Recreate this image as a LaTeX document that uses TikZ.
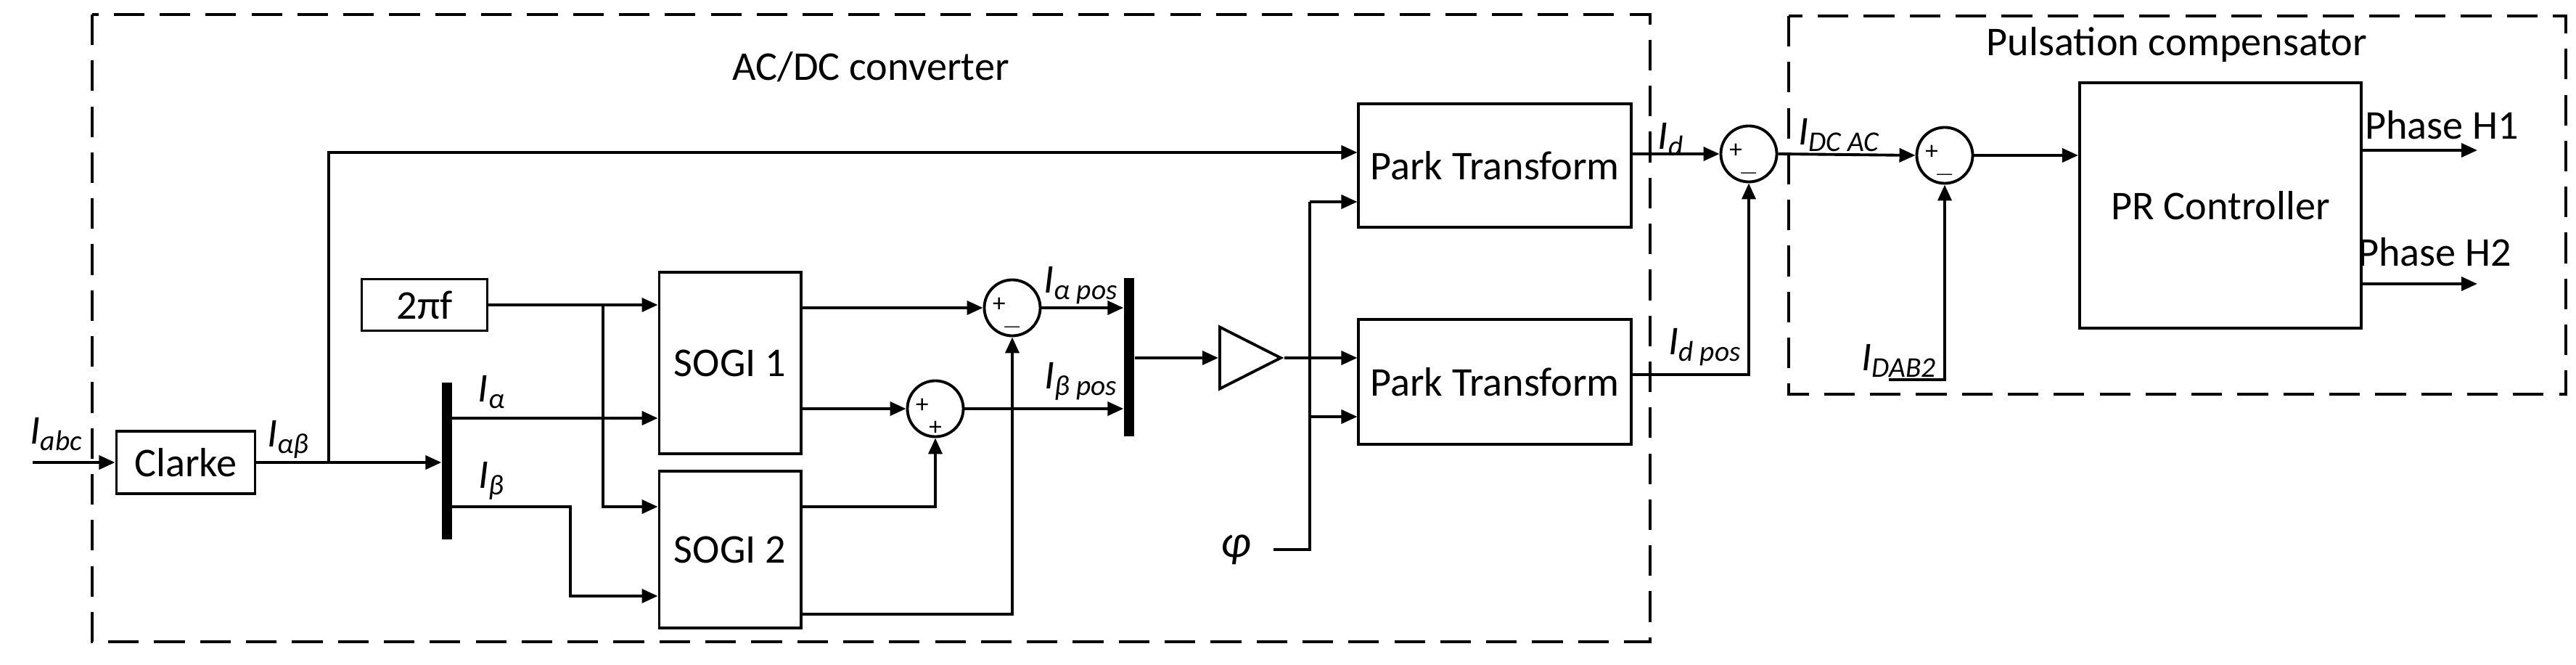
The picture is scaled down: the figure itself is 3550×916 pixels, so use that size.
\documentclass[tikz,border=0pt]{standalone}
\usepackage{fontspec}
\setmainfont{Carlito}
\usetikzlibrary{arrows.meta,shapes.geometric}
\begin{document}
\begin{tikzpicture}[x=0.01cm,y=-0.01cm,
  every node/.style={font=\fontsize{16}{19}\selectfont},
  line/.style={line width=1.1pt},
  arr/.style={line, -{Triangle[length=0.22cm,width=0.19cm]}},
  box/.style={draw, line width=1.1pt, inner sep=0pt},
  sum/.style={draw, line width=1.1pt, circle, minimum size=0.77cm, inner sep=0pt},
  bar/.style={fill=black, inner sep=0pt, minimum width=0.14cm},
  frame/.style={draw, line width=1pt, dash pattern=on 12pt off 6pt},
  sign/.style={inner sep=0pt, font=\fontsize{10}{10}\selectfont},
  lbl/.style={inner sep=1pt}]
\useasboundingbox (0,0) rectangle (3550,916);
% frames
\draw[frame] (127,20) rectangle (2274,884);
\draw[frame] (2465,22) rectangle (3536,543);
\node (t1) at (1200,92) {AC/DC converter};
\node (t2) at (3000,62) {Pulsation compensator};
% blocks
\node[box, minimum width=1.91cm, minimum height=0.86cm] (clarke) at (256,637) {Clarke};
\node[box, minimum width=1.73cm, minimum height=0.71cm] (f) at (585,420) {2πf};
\node[box, minimum width=1.95cm, minimum height=2.5cm] (sogi1) at (1006,500) {SOGI 1};
\node[box, minimum width=1.95cm, minimum height=2.16cm] (sogi2) at (1006,757) {SOGI 2};
\node[box, minimum width=3.75cm, minimum height=1.7cm] (park1) at (2060,228) {Park Transform};
\node[box, minimum width=3.75cm, minimum height=1.72cm] (park2) at (2060,526) {Park Transform};
\node[box, minimum width=3.88cm, minimum height=3.38cm] (pr) at (3060,283) {PR Controller};
\node[bar, minimum height=2.15cm] (demux) at (616,635) {};
\node[bar, minimum height=2.18cm] (mux) at (1556,492) {};
\node[draw, line width=1.1pt, isosceles triangle, isosceles triangle stretches, minimum height=0.84cm, minimum width=0.85cm, inner sep=0pt, anchor=lower side] (gain) at (1679,493) {};
\node[sum] (s1) at (1395,424) {};
\node[sum] (s2) at (1289,563) {};
\node[sum] (s3) at (2410,212) {};
\node[sum] (s4) at (2680,214) {};
% signs
\foreach \s/\b in {s1/$-$, s2/+, s3/$-$, s4/$-$}{
  \node[sign] at ([xshift=-0.18cm,yshift=0.04cm]\s.center) {+};
  \node[sign] at ([yshift=-0.27cm]\s.center) {\b};
}
% coordinates
\coordinate (in) at (45,637);
\coordinate (br) at (453,637);
\coordinate (top) at (453,210);
\coordinate (ia) at (623,576);
\coordinate (ib) at (623,698);
\coordinate (fb) at (831,420);
\coordinate (ibk) at (786,698);
\coordinate (phi0) at (1755,757);
\coordinate (pv) at (1805,757);
\coordinate (dab) at (2603,523);
% input
\draw[arr] (in) -- (clarke.west);
\node[lbl] (labc) at (78,598) {\textit{I}\textsubscript{\textit{abc}}};
\draw[arr] (clarke.east) -- (demux.west |- clarke.east);
\node[lbl] (lab) at (398,605) {\textit{I}\textsubscript{\textit{αβ}}};
\draw[arr] (br) -- (top) -- (park1.west |- top);
% demux outputs
\draw[arr] (ia) -- (sogi1.west |- ia);
\draw[arr] (ib) -| (ibk) |- (sogi2.west |- 0,821);
\node[lbl] (la) at (678,540) {\textit{I}\textsubscript{\textit{α}}};
\node[lbl] (lbb) at (678,662) {\textit{I}\textsubscript{\textit{β}}};
% 2pi f
\draw[arr] (f.east) -- (sogi1.west |- f.east);
\draw[arr] (fb) |- (sogi2.west |- ib);
% sogi outputs
\draw[arr] (sogi1.east |- s1) -- (s1.west);
\draw[arr] (sogi1.east |- s2) -- (s2.west);
\draw[arr] (sogi2.east |- ib) -| (s2.south);
\draw[arr] (sogi2.east |- 0,846) -| (s1.south);
\draw[arr] (s1.east) -- (mux.west |- s1);
\draw[arr] (s2.east) -- (mux.west |- s2);
\node[lbl] (lap) at (1490,393) {\textit{I}\textsubscript{\textit{α pos}}};
\node[lbl] (lbp) at (1490,525) {\textit{I}\textsubscript{\textit{β pos}}};
% gain and park
\draw[arr] (mux.east |- gain.lower side) -- (gain.lower side);
\draw[arr] (gain.apex) -- (park2.west |- gain.apex);
\node[lbl, font=\fontsize{18}{20}\selectfont] (phi) at (1703,757) {\textit{φ}};
\draw[line] (phi0) -- (pv) -- (1805,278);
\draw[arr] (1805,278) -- (park1.west |- 0,278);
\draw[arr] (1805,574) -- (park2.west |- 0,574);
% park outputs
\draw[arr] (park1.east |- s3) -- (s3.west);
\draw[arr] (park2.east |- 0,516) -| (s3.south);
\node[lbl] (lid) at (2303,192) {\textit{I}\textsubscript{\textit{d}}};
\node[lbl] (lidp) at (2350,478) {\textit{I}\textsubscript{\textit{d pos}}};
\draw[arr] (s3.east) -- (s4.west);
\node[lbl] (ldc) at (2535,186) {\textit{I}\textsubscript{\textit{DC AC}}};
\draw[arr] (dab) -| (s4.south);
\node[lbl, anchor=south west, inner sep=0pt] (ldab) at (2565,520) {\textit{I}\textsubscript{\textit{DAB2}}};
\draw[arr] (s4.east) -- (pr.west |- s4);
% outputs
\coordinate (h1) at (3414,207);
\coordinate (h2) at (3414,391);
\draw[arr] (pr.east |- h1) -- (h1);
\draw[arr] (pr.east |- h2) -- (h2);
\node (lh1) at (3365,172) {Phase H1};
\node (lh2) at (3355,347) {Phase H2};
\end{tikzpicture}
\end{document}
